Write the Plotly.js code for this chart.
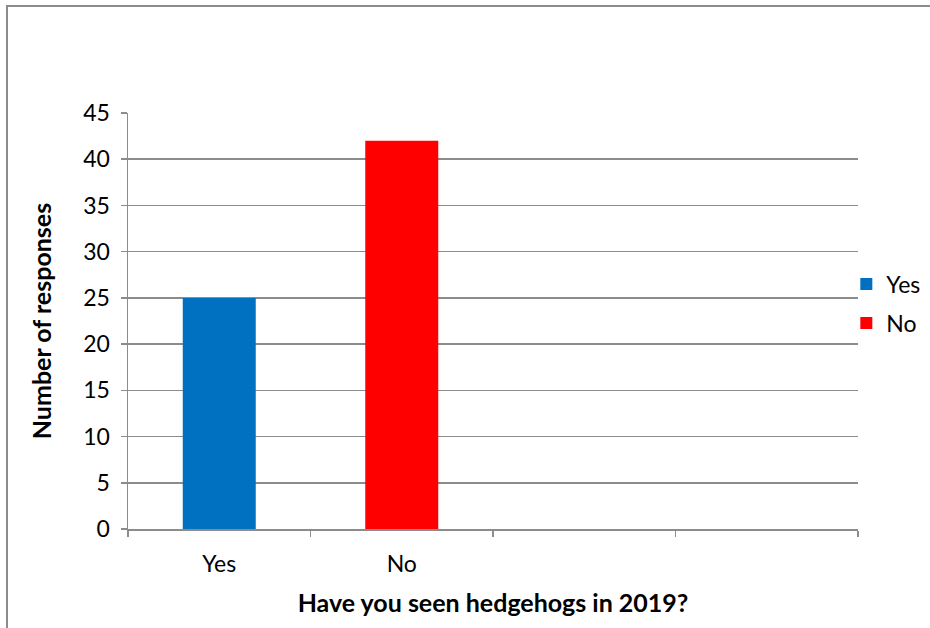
<!DOCTYPE html>
<html>
<head>
<meta charset="utf-8">
<script src="https://cdn.plot.ly/plotly-3.0.1.min.js"></script>
<style>
  html, body { margin:0; padding:0; background:#fff; overflow:hidden; }
  #wrap { position:relative; width:930px; height:628px; }
  #chart { position:absolute; left:0; top:0; width:930px; height:628px; }
  #frame { position:absolute; left:6px; top:5px; width:940px; height:640px;
           border-top:2px solid #8c8c8c; border-left:2px solid #8c8c8c; pointer-events:none; }
</style>
</head>
<body>
<div id="wrap">
  <div id="chart"></div>
  <div id="frame"></div>
</div>
<script>
// Data
const categories = ["Yes", "No", " ", "  "];
const seriesNames = ["Yes", "No"];
const seriesValues = [25, 42];
const seriesColors = ["#0070C0", "#FF0000"];
const yTickVals = [0, 5, 10, 15, 20, 25, 30, 35, 40, 45];

const FONT = "Lato, 'Open Sans', sans-serif";

const traces = seriesNames.map((name, i) => ({
  type: "bar",
  name: name,
  legendgroup: "g" + i,
  x: [categories[i]],
  y: [seriesValues[i]],
  width: 0.4,
  marker: { color: seriesColors[i] },
  hoverinfo: "x+y"
}));

const layout = {
  width: 930,
  height: 628,
  margin: { l: 128, r: 72, t: 113, b: 99, pad: 0, autoexpand: false },
  paper_bgcolor: "#ffffff",
  plot_bgcolor: "#ffffff",
  barmode: "overlay",
  showlegend: true,
  legend: {
    x: 0.984, xanchor: "left",
    y: 0.542, yanchor: "middle",
    font: { family: FONT, size: 23, color: "#000" },
    itemwidth: 30,
    traceorder: "grouped",
    tracegroupgap: 6,
    bgcolor: "rgba(0,0,0,0)"
  },
  xaxis: {
    type: "category",
    categoryorder: "array",
    categoryarray: categories,
    range: [-0.5, 3.5],
    tickson: "boundaries",
    ticks: "outside",
    ticklen: 6,
    tickcolor: "#8c8c8c",
    tickwidth: 1.5,
    ticklabelstandoff: 14,
    showline: true,
    linecolor: "#8c8c8c",
    linewidth: 1.5,
    showgrid: false,
    zeroline: false,
    tickfont: { family: FONT, size: 23, color: "#000" },
    title: {
      text: "<b>Have you seen hedgehogs in 2019?</b>",
      font: { family: FONT, size: 25, color: "#000" },
      standoff: 18
    },
    fixedrange: true
  },
  yaxis: {
    range: [0, 45],
    tickvals: yTickVals,
    ticks: "outside",
    ticklen: 6,
    tickcolor: "#8c8c8c",
    tickwidth: 1.5,
    ticklabelstandoff: 6,
    showline: true,
    linecolor: "#8c8c8c",
    linewidth: 1.5,
    showgrid: true,
    gridcolor: "#8c8c8c",
    gridwidth: 1.5,
    zeroline: false,
    tickfont: { family: FONT, size: 23, color: "#000" },
    title: {
      text: "<b>Number of responses</b>",
      font: { family: FONT, size: 25, color: "#000" },
      standoff: 24
    },
    fixedrange: true
  }
};

Plotly.newPlot("chart", traces, layout, { displayModeBar: false, staticPlot: true });
</script>
</body>
</html>
